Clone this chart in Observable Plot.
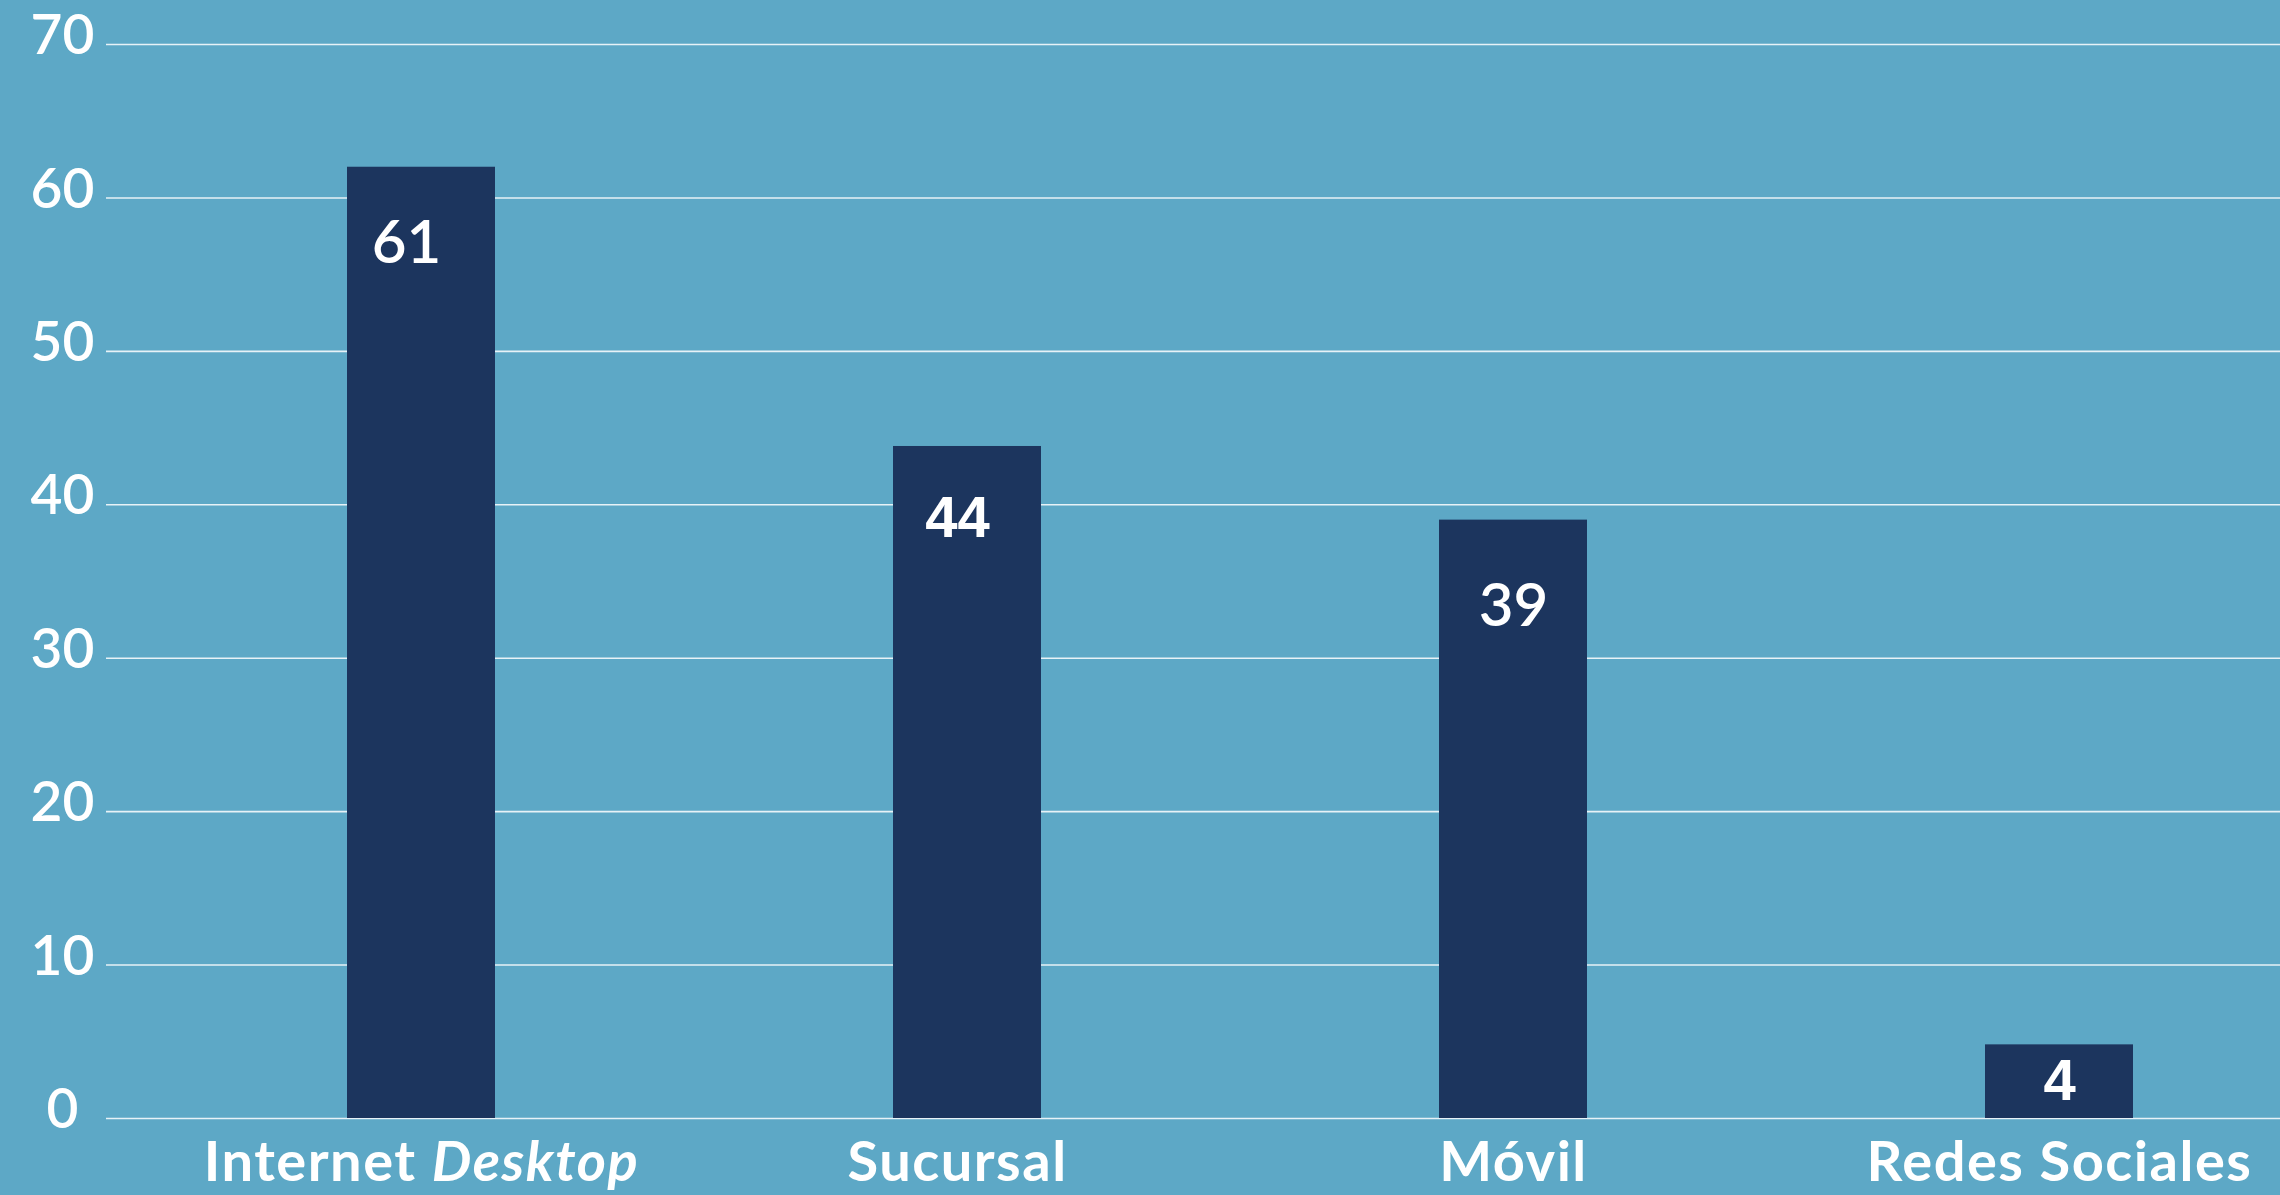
<!DOCTYPE html>
<html>
<head>
<meta charset="utf-8">
<script src="https://cdn.jsdelivr.net/npm/d3@7"></script>
<script src="https://cdn.jsdelivr.net/npm/@observablehq/plot@0.6"></script>
<style>
  html, body { margin: 0; padding: 0; background: #5DA8C6; }
  #chart svg { display: block; }
</style>
</head>
<body>
<div id="chart"></div>
<script>
const categories = ["Internet Desktop", "Sucursal", "Móvil", "Redes Sociales"];
const barValues = [62, 43.8, 39, 4.8];
const valueLabels = ["61", "44", "39", "4"];
const yTicks = [0, 10, 20, 30, 40, 50, 60, 70];

const data = categories.map((c, i) => ({cat: c, value: barValues[i], label: valueLabels[i]}));
const pick = (lab) => data.filter(d => d.label === lab);

const bg = "#5DA8C6";
const barColor = "#1C355E";
const valueStyle = {x: "cat", text: "label", fill: "white", fontSize: 60, fontFamily: "Lato", fontWeight: 600};
const arialStyle = {x: "cat", text: "label", fill: "white", fontSize: 58, fontFamily: "Liberation Sans", fontWeight: 700};

const chart = Plot.plot({
  width: 2280,
  height: 1195,
  marginLeft: 106,
  marginRight: 0,
  marginTop: 44,
  marginBottom: 77,
  style: {background: bg, overflow: "visible"},
  x: {domain: categories, range: [347, 2133], paddingInner: 0.729, paddingOuter: 0, axis: null},
  y: {domain: [0, 70], axis: null},
  marks: [
    Plot.ruleY(yTicks, {stroke: "white", strokeWidth: 1.6, strokeOpacity: 0.85}),
    Plot.barY(data, {x: "cat", y: "value", fill: barColor}),
    Plot.text(yTicks, {y: d => d, frameAnchor: "left", dx: -44, dy: -8, text: d => String(d),
      fill: "white", fontSize: 55, fontFamily: "Lato", fontWeight: 600, textAnchor: "middle"}),
    Plot.text(pick("61"), {...valueStyle, y: "value", dy: 77, dx: -15}),
    Plot.text(pick("39"), {...valueStyle, y: "value", dy: 87, dx: 0}),
    Plot.text(pick("44"), {...arialStyle, y: "value", dy: 72, dx: -10}),
    Plot.text(pick("4"), {...arialStyle, y: d => d.value / 2}),
    Plot.text(data.filter(d => d.cat !== "Sucursal"), {x: "cat", y: 0, text: "cat", dy: 45,
      fill: "white", fontSize: 56, fontFamily: "Lato", fontWeight: 700}),
    Plot.text(data.filter(d => d.cat === "Sucursal"), {x: "cat", y: 0, text: "cat", dy: 45, dx: -10,
      fill: "white", fontSize: 56, fontFamily: "Lato", fontWeight: 700})
  ]
});

// italicize "Desktop" and widen the category labels
d3.select(chart).selectAll("text").each(function() {
  const t = d3.select(this);
  const s = t.text();
  if (categories.includes(s)) t.attr("letter-spacing", 1.5);
  if (s === "Internet Desktop") {
    t.text(null);
    t.append("tspan").text("Internet ");
    t.append("tspan").attr("font-style", "italic").text("Desktop");
  }
});

document.getElementById("chart").appendChild(chart);
</script>
</body>
</html>
